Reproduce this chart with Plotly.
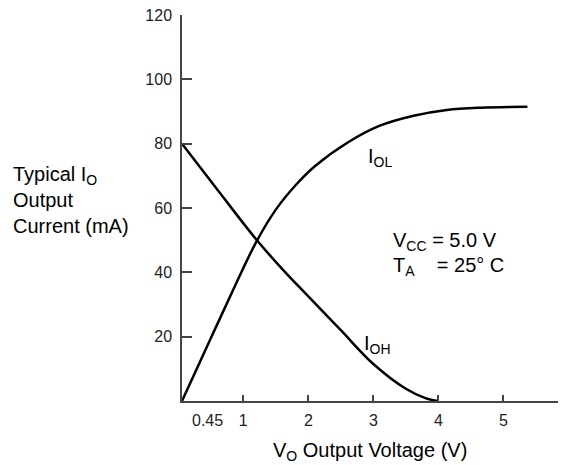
import plotly.graph_objects as go

# Data
iol_v = [0.057, 0.5, 0.9, 1.2, 1.5, 1.8, 2.1, 2.6, 3.1, 3.62, 4.13, 4.65, 5.37]
iol_ma = [0, 19.5, 37, 49.5, 59.5, 67, 73, 80.3, 85.6, 88.7, 90.5, 91.2, 91.5]
ioh_v = [0.057, 0.62, 1.2, 1.6, 2.0, 2.5, 3.0, 3.5, 3.8, 4.0]
ioh_ma = [80, 65.2, 50.2, 41, 32.5, 22, 11.5, 3.8, 0.9, 0]
x_ticks = [1, 2, 3, 4, 5]
y_ticks = [20, 40, 60, 80, 100, 120]

FONT = "Liberation Sans, Arial, sans-serif"
AX = "#444444"

fig = go.Figure()
fig.add_trace(go.Scatter(x=iol_v, y=iol_ma, mode="lines",
                         line=dict(color="black", width=2.5, shape="spline", smoothing=1.0),
                         showlegend=False, hoverinfo="skip"))
fig.add_trace(go.Scatter(x=ioh_v, y=ioh_ma, mode="lines",
                         line=dict(color="black", width=2.5, shape="spline", smoothing=1.0),
                         showlegend=False, hoverinfo="skip"))

fig.update_layout(
    width=574, height=465,
    margin=dict(l=182, r=16, t=15, b=64, autoexpand=False),
    paper_bgcolor="white", plot_bgcolor="white",
    font=dict(family=FONT, color="black", size=16),
    xaxis=dict(range=[0.057, 5.84], showgrid=False, zeroline=False, automargin=False,
               showline=True, linecolor=AX, linewidth=1.5,
               tickvals=x_ticks, ticks="inside", ticklen=6, tickwidth=1.5, tickcolor=AX,
               tickfont=dict(size=16, family=FONT, color="#222222"), ticklabelstandoff=4),
    yaxis=dict(range=[0, 120], showgrid=False, zeroline=False, automargin=False,
               showline=True, linecolor=AX, linewidth=1.5,
               tickvals=y_ticks, ticks="inside", ticklen=10, tickwidth=1.5, tickcolor=AX,
               tickfont=dict(size=16, family=FONT, color="#222222"), ticklabelstandoff=5),
)

def py(p):
    return (401 - p) / 386.0

anns = [
    dict(x=0.45, y=py(420), xref="x", yref="paper", text="0.45", xanchor="center", yanchor="middle",
         font=dict(size=16, color="#222222")),
    dict(x=(11 - 182) / 376.0, y=py(200), xref="paper", yref="paper",
         text="Typical I<sub>O</sub><br>Output<br>Current (mA)", align="left",
         xanchor="left", yanchor="middle", font=dict(size=20)),
    dict(x=0.5, y=py(451), xref="paper", yref="paper",
         text="V<sub>O</sub> Output Voltage (V)", xanchor="center", yanchor="middle",
         font=dict(size=20)),
    dict(x=(366 - 178) / 65.0, y=py(157), xref="x", yref="paper", text="I<sub>OL</sub>",
         xanchor="left", yanchor="middle", font=dict(size=20)),
    dict(x=(362 - 178) / 65.0, y=py(344), xref="x", yref="paper", text="I<sub>OH</sub>",
         xanchor="left", yanchor="middle", font=dict(size=20)),
    dict(x=(391 - 178) / 65.0, y=py(241), xref="x", yref="paper", text="V<sub>CC</sub> = 5.0 V",
         xanchor="left", yanchor="middle", font=dict(size=20)),
    dict(x=(391 - 178) / 65.0, y=py(266), xref="x", yref="paper",
         text="T<sub>A</sub>&nbsp;&nbsp;&nbsp; = 25° C",
         xanchor="left", yanchor="middle", font=dict(size=20)),
]
for a in anns:
    a.setdefault("showarrow", False)
    fig.add_annotation(**a)

fig.write_html("out.html", config={"displayModeBar": False},
               post_script="document.body.style.margin='0';document.body.style.overflow='hidden';")
